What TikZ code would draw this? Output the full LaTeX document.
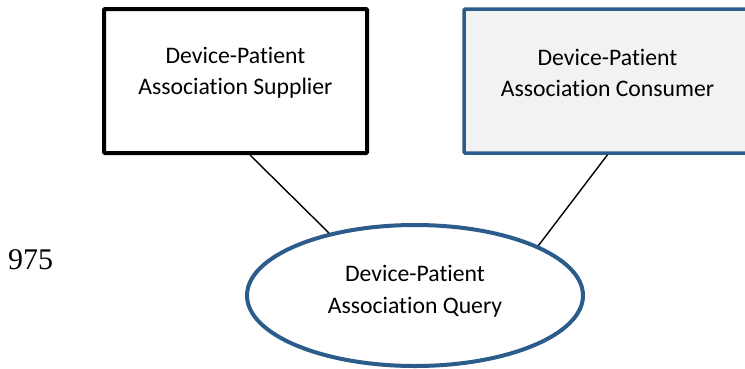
\documentclass[tikz,border=0pt]{standalone}
\usepackage{fontspec}
\setmainfont{Carlito}[Ligatures=NoCommon]
\newfontfamily\numfont{Liberation Serif}
\usetikzlibrary{shapes.geometric}
\definecolor{qblue}{RGB}{43,92,139}
\definecolor{qfill}{RGB}{242,242,242}
\tikzset{
  boxtext/.style={align=center,inner sep=0pt,font=\fontsize{23.7}{31}\selectfont},
  supbox/.style={draw=black,line width=4pt,rounded corners=1pt,minimum width=263pt,minimum height=144pt,inner sep=0pt},
  conbox/.style={draw=qblue,fill=qfill,line width=3.5pt,rounded corners=1pt,minimum width=287pt,minimum height=144pt,inner sep=0pt},
  queryell/.style={draw=qblue,line width=4pt,ellipse,minimum width=336pt,minimum height=141pt,inner sep=0pt},
  link/.style={draw=black,line width=1.4pt}
}
\begin{document}
\begin{tikzpicture}[x=1pt,y=-1pt]
\useasboundingbox (0,0) rectangle (745,368);
\clip (0,0) rectangle (745,368);
\node[supbox] (b1) at (235.5,81) {};
\node[boxtext] (b1t) at (235.5,73) {Device-Patient\\Association Supplier};
\node[conbox] (b2) at (607.5,81) {};
\node[boxtext] (b2t) at (607.5,73) {Device-Patient\\Association Consumer};
\node[queryell] (q) at (415,295.5) {};
\node[boxtext,font=\fontsize{23.7}{32}\selectfont] (qt) at (415,291.5) {Device-Patient\\Association Query};
\node[anchor=base west,inner sep=0pt,font=\numfont\fontsize{30}{36}\selectfont] (ln) at (8,269) {975};
\draw[link] ([xshift=14.5pt]b1.south) -- (q.144);
\draw[link] (b2.south) -- (q.22);
\end{tikzpicture}
\end{document}
